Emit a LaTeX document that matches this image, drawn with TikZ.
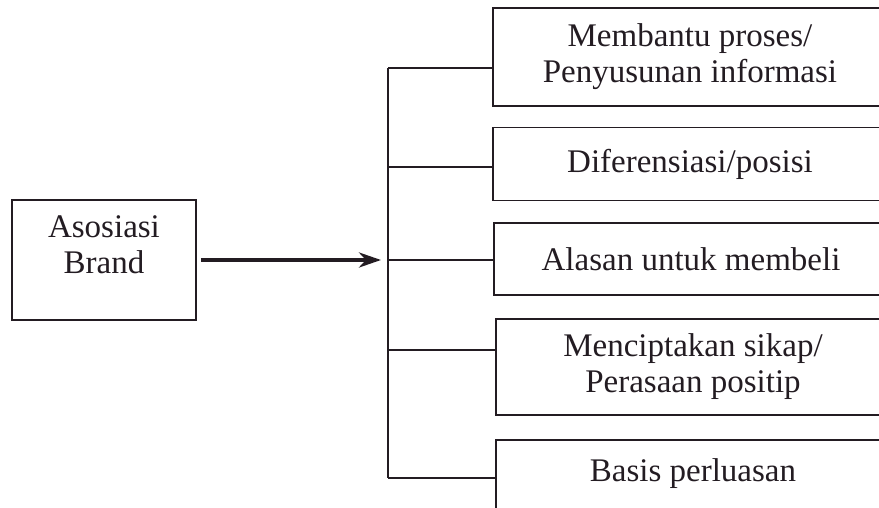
\documentclass[tikz,border=0pt]{standalone}
\usepackage{fontspec}
\setmainfont{Liberation Serif}
\usepackage{tikz}
\usetikzlibrary{arrows.meta}
\definecolor{ink}{RGB}{35,28,34}
\tikzset{
  font={\fontsize{33pt}{36pt}\selectfont}}

\begin{document}
\begin{tikzpicture}[x=1pt,y=-1pt,color=ink,line width=1.6pt]
\tikzstyle{every node}+=[inner sep=0pt]
\tikzstyle{box}=[draw,align=center,line width=1.8pt]
\tikzstyle{branch}=[line width=1.5pt]
\clip (0,0) rectangle (879,508);
\node [box,minimum width=184pt,minimum height=120pt,text depth=30pt] (asosiasi) at (104,260) {Asosiasi\\Brand};
\node [box,minimum width=394pt,minimum height=98pt] (proses) at (690,57) {Membantu proses/\\Penyusunan informasi};
\node [box,minimum width=394pt,minimum height=73pt] (posisi) at (690,164) {Diferensiasi/posisi};
\node [box,minimum width=394pt,minimum height=72pt] (alasan) at (691,259) {Alasan untuk membeli};
\node [box,minimum width=394pt,minimum height=96pt] (sikap) at (693,367) {Menciptakan sikap/\\Perasaan positip};
\node [box,minimum width=394pt,minimum height=74pt,text depth=14pt] (basis) at (693,477) {Basis perluasan};
\coordinate (j1) at (388,68);
\coordinate (j2) at (388,167);
\coordinate (j3) at (388,260);
\coordinate (j4) at (388,350);
\coordinate (j5) at (388,478);
\draw [branch] (j1) -- (j5);
\draw [branch] (j1) -- (j1 -| proses.west);
\draw [branch] (j2) -- (j2 -| posisi.west);
\draw [branch] (j3) -- (j3 -| alasan.west);
\draw [branch] (j4) -- (j4 -| sikap.west);
\draw [branch] (j5) -- (j5 -| basis.west);
\draw [line width=4.5pt,-{Stealth[length=22pt,width=15pt,inset=7pt]}] ([xshift=4pt]asosiasi.east) -- ([xshift=-7pt]j3);
\end{tikzpicture}
\end{document}
